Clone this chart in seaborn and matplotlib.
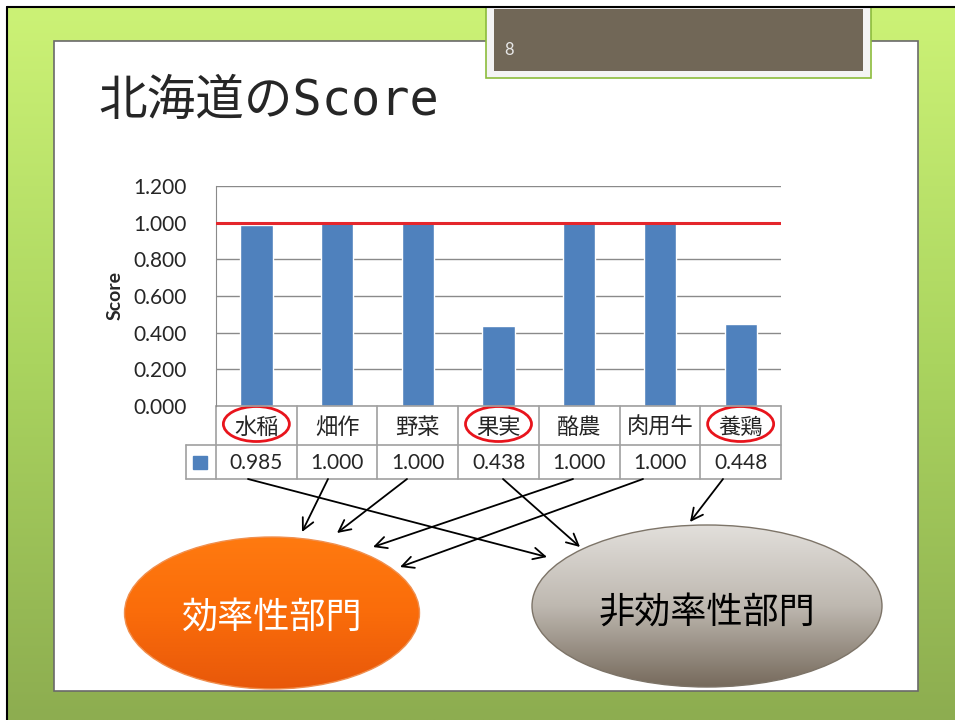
import numpy as np
import matplotlib.pyplot as plt
import seaborn as sns
from matplotlib.patches import Ellipse, Rectangle

# データ
categories = ['水稲', '畑作', '野菜', '果実', '酪農', '肉用牛', '養鶏']
scores = [0.985, 1.000, 1.000, 0.438, 1.000, 1.000, 0.448]
circled = ['水稲', '果実', '養鶏']
groups = ['非効率性部門', '効率性部門', '効率性部門', '非効率性部門',
          '効率性部門', '効率性部門', '非効率性部門']
yticks = [0.0, 0.2, 0.4, 0.6, 0.8, 1.0, 1.2]
threshold = 1.0
title = '北海道のScore'
page = '8'

# レイアウト（ピクセル、左上原点）
arrow_start_x = [248, 328, 407, 503, 573, 643, 723]
arrow_end = [(547, 557), (302, 532), (337, 533), (580, 547),
             (373, 547), (400, 567), (690, 522)]
group_ellipse = {'効率性部門': ((272, 613), 295, 152, 628),
                 '非効率性部門': ((707, 606), 350, 162, 623)}

sns.set_style('white')
plt.rcParams['font.family'] = ['Lato', 'Noto Sans CJK JP']

W, H = 955, 720
fig = plt.figure(figsize=(W / 100, H / 100), dpi=100)

# 背景
bg = fig.add_axes([0, 0, 1, 1], zorder=0)
bg.axis('off')
t = np.linspace(0, 1, 256)
stops = np.array([[204, 242, 118], [170, 212, 95], [141, 173, 80]]) / 255
grad = np.stack([np.interp(t, [0, 0.5, 1], stops[:, c]) for c in range(3)], axis=-1)
grad = np.repeat(grad[:, None, :], 4, axis=1)
bg.imshow(grad, extent=(8, W, H, 8), aspect='auto')
bg.add_patch(Rectangle((54, 41), 864, 650, facecolor='white', edgecolor='#6a6a6a', lw=1.2))
bg.add_patch(Rectangle((486, 7), 385, 71, facecolor='#f4f4f4', edgecolor='#8cbc3c', lw=1.2))
bg.add_patch(Rectangle((494, 9), 369, 62, facecolor='#716757', edgecolor='none'))
bg.plot([7, 7], [7, H], color='black', lw=1.5)
bg.plot([7, W], [7, 7], color='black', lw=1.5)
bg.text(98, 115, title, fontsize=35, va='baseline', ha='left',
        family=['DejaVu Sans Mono', 'Noto Sans CJK JP'])
bg.text(504, 50, page, color='#e6e6e6', fontsize=12, va='center', ha='left')
bg.set_xlim(0, W)
bg.set_ylim(H, 0)

# 棒グラフ
ax = fig.add_axes([216 / W, 1 - 406 / H, 565 / W, 220 / H], zorder=1)
sns.barplot(x=categories, y=scores, color='#4f81bd', saturation=1, width=0.4, ax=ax)
ax.axhline(threshold, color='#e4262c', lw=2.2, zorder=3)
ax.set_xlim(-0.5, len(categories) - 0.5)
ax.set_ylim(0, 1.2)
ax.set_yticks(yticks)
ax.set_yticklabels([f'{v:.3f}' for v in yticks], fontsize=15)
ax.tick_params(axis='y', length=0, pad=21)
ax.tick_params(axis='x', bottom=False, labelbottom=False)
ax.set_xlabel('')
ax.set_ylabel('Score', fontsize=14, fontweight='bold')
ax.yaxis.set_label_coords(-0.163, 0.5)
ax.yaxis.grid(True, color='#8a8a8a', lw=1)
ax.set_axisbelow(True)
for s in ['top', 'right', 'bottom']:
    ax.spines[s].set_visible(False)
ax.spines['left'].set_color('#8a8a8a')

# データテーブル
ppu = 220 / 1.2
cw = 565 / len(categories)


def dy(px):
    return -px / ppu


r1, r2 = dy(39), dy(73)
xl = -0.5 - 30 / cw
kw = dict(color='#a0a0a0', lw=1.2, clip_on=False)
ax.plot([-0.5, len(categories) - 0.5], [0, 0], **kw)
ax.plot([xl, len(categories) - 0.5], [r1, r1], **kw)
ax.plot([xl, len(categories) - 0.5], [r2, r2], **kw)
for b in np.arange(-0.5, len(categories)):
    ax.plot([b, b], [0, r2], **kw)
ax.plot([xl, xl], [r1, r2], **kw)
ax.add_patch(Rectangle((-0.5 - 23 / cw, dy(63)), 14 / cw, 13 / ppu,
                       color='#4f81bd', clip_on=False))
for i, (c, v) in enumerate(zip(categories, scores)):
    ax.text(i, dy(28), c, ha='center', va='baseline', fontsize=16, clip_on=False)
    ax.text(i, dy(63), f'{v:.3f}', ha='center', va='baseline', fontsize=15, clip_on=False)
    if c in circled:
        ax.add_patch(Ellipse((i, dy(18)), 66 / cw, 35 / ppu, fill=False,
                             ec='#e8141c', lw=2, clip_on=False))

# 矢印と部門
ov = fig.add_axes([0, 0, 1, 1], zorder=2)
ov.axis('off')

fills = {'効率性部門': ([[255, 122, 16], [250, 108, 10], [232, 88, 10]], '#f09050', 'white'),
         '非効率性部門': ([[226, 223, 219], [190, 184, 176], [118, 106, 92]], '#7d7468', 'black')}
for name, ((cx, cy), w, h, base) in group_ellipse.items():
    cols, ec, tc = fills[name]
    cols = np.array(cols) / 255
    g = np.stack([np.interp(t, [0, 0.5, 1], cols[:, c]) for c in range(3)], axis=-1)
    g = np.repeat(g[:, None, :], 4, axis=1)
    e = Ellipse((cx, cy), w, h, facecolor='none', edgecolor=ec, lw=1, zorder=3)
    ov.add_patch(e)
    im = ov.imshow(g, extent=(cx - w / 2, cx + w / 2, cy + h / 2, cy - h / 2),
                   aspect='auto', zorder=2)
    im.set_clip_path(e)
    ov.text(cx, base, name, color=tc, fontsize=26, ha='center', va='baseline', zorder=4)

for sx, end in zip(arrow_start_x, arrow_end):
    ov.annotate('', xy=end, xytext=(sx, 479),
                arrowprops=dict(arrowstyle='->,head_length=0.6,head_width=0.3',
                                color='black', lw=1.3, mutation_scale=14,
                                shrinkA=0, shrinkB=0), zorder=5)

ov.set_xlim(0, W)
ov.set_ylim(H, 0)

fig.savefig('out.png', dpi=100)
